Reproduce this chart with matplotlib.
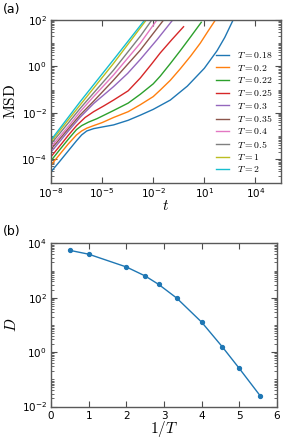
import numpy as np
import matplotlib
matplotlib.use("Agg")
import matplotlib.pyplot as plt
from matplotlib.ticker import LogLocator, NullLocator, NullFormatter

plt.rcParams['mathtext.fontset'] = 'cm'
plt.rcParams['font.family'] = 'DejaVu Sans'

# panel (a): MSD curves, read as log10(t), log10(MSD)
temps = ['0.18', '0.2', '0.22', '0.25', '0.3', '0.35', '0.4', '0.5', '1', '2']

logt_018 = [-8, -7.5, -7, -6.5, -6.2, -5.9, -5.5, -5.0, -4.33, -3.47, -2.76, -2.0, -1.0, 0.0, 1.0, 1.75, 2.2, 2.69]
logm_018 = [-4.54, -4.1, -3.65, -3.2, -2.95, -2.78, -2.68, -2.61, -2.52, -2.32, -2.1, -1.85, -1.45, -0.85, -0.08, 0.68, 1.25, 2.0]

logt_020 = [-8, -7.5, -7, -6.5, -6.2, -5.9, -5.5, -5.0, -4.33, -3.47, -2.76, -2.0, -1.59, -1.0, -0.41, 0.2, 0.76, 1.2, 1.65]
logm_020 = [-4.25, -3.8, -3.35, -2.95, -2.78, -2.66, -2.55, -2.42, -2.2, -1.95, -1.65, -1.3, -1.02, -0.6, -0.1, 0.45, 1.0, 1.5, 2.0]

logt_022 = [-8, -7.5, -7, -6.5, -6.2, -5.8, -5.3, -4.33, -3.47, -2.76, -2.0, -1.59, -1.0, -0.41, 0.2, 0.82]
logm_022 = [-4.06, -3.6, -3.15, -2.72, -2.55, -2.4, -2.25, -1.9, -1.58, -1.2, -0.75, -0.42, 0.12, 0.68, 1.28, 1.9]

logt_025 = [-8, -7.5, -7, -6.5, -6.0, -5.5, -4.9, -4.33, -3.47, -2.76, -2.1, -1.59, -0.9, -0.22]
logm_025 = [-3.89, -3.44, -2.98, -2.55, -2.2, -1.95, -1.7, -1.45, -1.05, -0.5, 0.1, 0.58, 1.16, 1.71]

logt_030 = [-8, -7, -6.29, -5.5, -4.33, -3.5, -2.76, -1.78, -0.9]
logm_030 = [-3.69, -2.8, -2.19, -1.6, -0.87, -0.3, 0.3, 1.15, 1.96]

logt_035 = [-8, -7, -6.29, -5.5, -4.33, -2.76, -1.39]
logm_035 = [-3.57, -2.7, -2.09, -1.5, -0.59, 0.7, 2.0]

logt_040 = [-8, -7, -6.29, -5.5, -4.33, -2.76, -1.78]
logm_040 = [-3.46, -2.6, -1.95, -1.3, -0.37, 1.0, 2.0]

logt_050 = [-8, -7, -6.29, -4.33, -2.76, -2.08]
logm_050 = [-3.34, -2.45, -1.81, -0.16, 1.3, 2.0]

logt_1 = [-8, -6.29, -4.33, -2.41]
logm_1 = [-3.24, -1.66, 0.13, 2.0]

logt_2 = [-8, -6.29, -4.33, -2.5]
logm_2 = [-3.17, -1.52, 0.29, 2.0]

all_logt = [logt_018, logt_020, logt_022, logt_025, logt_030, logt_035, logt_040, logt_050, logt_1, logt_2]
all_logm = [logm_018, logm_020, logm_022, logm_025, logm_030, logm_035, logm_040, logm_050, logm_1, logm_2]

# panel (b): diffusion coefficient vs 1/T
inv_T = [0.5, 1.0, 2.0, 2.5, 2.857, 3.333, 4.0, 4.545, 5.0, 5.556]
D = [5500, 3980, 1350, 630, 309, 98, 12.6, 1.58, 0.25, 0.0245]

colors = ['#1f77b4', '#ff7f0e', '#2ca02c', '#d62728', '#9467bd',
          '#8c564b', '#e377c2', '#7f7f7f', '#bcbd22', '#17becf']

fig = plt.figure(figsize=(2.9, 4.46), dpi=100)
ax1 = fig.add_axes([51/290, 1 - 182.5/446, 230/290, 162.5/446])
ax2 = fig.add_axes([51/290, 1 - 406.5/446, 226/290, 163.2/446])

for j in range(len(temps)):
    ax1.plot(10.0**np.array(all_logt[j]), 10.0**np.array(all_logm[j]),
             color=colors[j], linewidth=1.0, label=r'$T=%s$' % temps[j])

ax1.set_xscale('log')
ax1.set_yscale('log')
ax1.set_xlim(1e-8, 10**5.5)
ax1.set_ylim(1e-5, 1e2)
ax1.set_xticks([1e-8, 1e-5, 1e-2, 1e1, 1e4])
ax1.xaxis.set_minor_locator(NullLocator())
ax1.set_yticks([1e-4, 1e-2, 1e0, 1e2])
ax1.yaxis.set_minor_locator(LogLocator(base=10, subs=np.arange(1, 10) * 1.0, numticks=100))
ax1.yaxis.set_minor_formatter(NullFormatter())
ax1.set_xlabel(r'$t$', fontsize=11, labelpad=-2)
ax1.set_ylabel(r'$\mathrm{MSD}$', fontsize=11, labelpad=2)
ax1.legend(loc='lower right', frameon=False, fontsize=7, handlelength=1.37,
           handletextpad=0.86, labelspacing=0.24, borderaxespad=0.45)

ax2.plot(inv_T, D, '-o', color='#1f77b4', linewidth=1.0, markersize=2.8)
ax2.set_yscale('log')
ax2.set_xlim(0, 6)
ax2.set_ylim(1e-2, 1e4)
ax2.set_xticks(range(7))
ax2.set_yticks([1e-2, 1e0, 1e2, 1e4])
ax2.yaxis.set_minor_locator(LogLocator(base=10, subs=np.arange(1, 10) * 1.0, numticks=100))
ax2.yaxis.set_minor_formatter(NullFormatter())
ax2.set_xlabel(r'$1/T$', fontsize=11, labelpad=-1)
ax2.set_ylabel(r'$D$', fontsize=11, labelpad=2)

for ax in [ax1, ax2]:
    ax.tick_params(which='both', direction='in', top=True, right=True, labelsize=7.5,
                   color='0.3', pad=3)
    ax.tick_params(which='major', length=4)
    ax.tick_params(which='minor', length=2)
    for s in ax.spines.values():
        s.set_color('0.35')
        s.set_linewidth(1.0)

fig.text(0.01, 1 - 9/446, '(a)', fontsize=9, va='center', ha='left')
fig.text(0.01, 1 - 231/446, '(b)', fontsize=9, va='center', ha='left')

fig.savefig('out.png', dpi=100)
